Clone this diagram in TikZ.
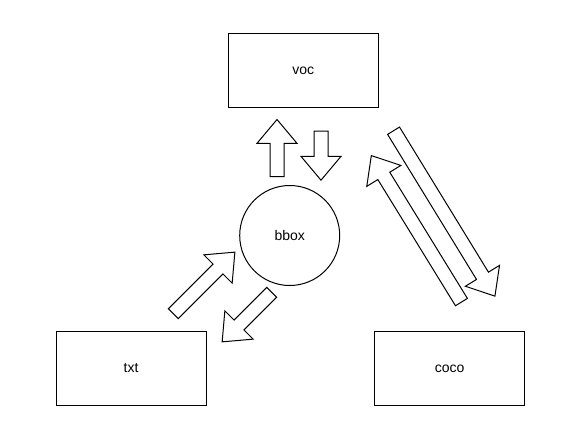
\documentclass[tikz,border=0pt]{standalone}
\usepackage{fontspec}
\setmainfont{Liberation Sans}
\usepackage{tikz}
\usetikzlibrary{shapes.arrows}

\tikzset{
  databox/.style={draw, line width=1pt, minimum width=150pt, minimum height=74pt, inner sep=0pt},
  blockarrow/.style={single arrow, draw, line width=1pt, inner xsep=0pt, inner ysep=6.5pt,
    single arrow head extend=13pt, single arrow tip angle=80, anchor=tail}
}

\begin{document}
\begin{tikzpicture}[x=1pt, y=-1pt, font=\fontsize{14}{16}\selectfont]
					% Fix the page to the size of the reference
					\useasboundingbox (0,0) rectangle (575,433);
					
					% Draw the three data boxes and the bbox circle
					\node[databox] (voc) at (303.3,71) {voc};
					\node[databox] (txt) at (131,368.5) {txt};
					\node[databox] (coco) at (449.7,368.7) {coco};
					\node[draw, circle, line width=1pt, minimum size=100pt, inner sep=0pt] (bbox) at (289.7,235.5) {bbox};
					
					% Draw block arrows between bbox and voc
					\node[blockarrow, minimum height=57pt, rotate=90] (bbox to voc) at (277,177) {};
					\node[blockarrow, minimum height=49pt, rotate=-90] (voc to bbox) at (321,130.7) {};
					
					% Draw block arrows between txt and bbox
					\node[blockarrow, minimum height=87pt, rotate=45] (txt to bbox) at (173,314) {};
					\node[blockarrow, minimum height=70pt, rotate=225] (bbox to txt) at (272,292) {};
					
					% Draw block arrows between coco and voc
					\node[blockarrow, minimum height=172pt, rotate=121.6] (coco to voc) at (461.7,302.5) {};
					\node[blockarrow, minimum height=194pt, rotate=-58.5] (voc to coco) at (393.3,130.3) {};
\end{tikzpicture}
\end{document}
